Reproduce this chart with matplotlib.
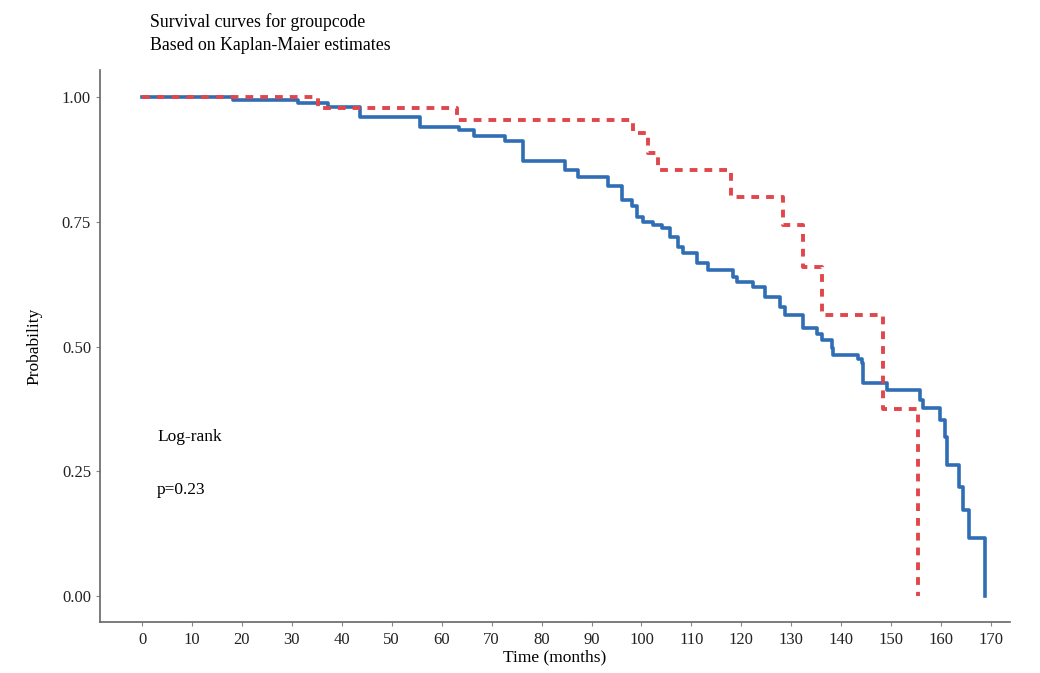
import matplotlib
matplotlib.use("Agg")
import matplotlib.pyplot as plt

plt.rcParams['font.family'] = ['Liberation Serif', 'DejaVu Serif']

# Kaplan-Meier steps (time in months, survival after the event)
blue_t = [0, 18.3, 31.2, 37.2, 43.7, 55.7, 63.4, 66.5, 72.7, 76.3, 84.7, 87.3,
          93.4, 96.1, 98.1, 99.1, 100.4, 102.4, 104.1, 105.7, 107.4, 108.4,
          111.1, 113.4, 118.4, 119.1, 122.4, 124.7, 127.8, 128.8, 132.4, 135.1,
          136.1, 138.1, 138.4, 143.4, 144.1, 144.4, 149.1, 155.8, 156.4, 159.8,
          160.8, 161.1, 163.5, 164.3, 165.5, 168.7]
blue_s = [1.0, 0.994, 0.988, 0.981, 0.960, 0.941, 0.934, 0.921, 0.911, 0.871, 0.854, 0.840,
          0.821, 0.794, 0.781, 0.760, 0.750, 0.744, 0.737, 0.720, 0.700, 0.687,
          0.667, 0.654, 0.640, 0.630, 0.620, 0.600, 0.580, 0.563, 0.537, 0.525,
          0.513, 0.497, 0.483, 0.475, 0.467, 0.427, 0.413, 0.393, 0.376, 0.353,
          0.319, 0.263, 0.219, 0.172, 0.116, 0.0]

red_t = [0, 35.3, 63.0, 98.3, 101.3, 103.3, 118.0, 128.4, 132.4, 136.2, 148.4, 155.4]
red_s = [1.0, 0.978, 0.954, 0.928, 0.888, 0.854, 0.800, 0.744, 0.660, 0.563, 0.375, 0.0]

xticks = list(range(0, 171, 10))
yticks = [0.0, 0.25, 0.5, 0.75, 1.0]

fig = plt.figure(figsize=(10.4, 6.73), dpi=100)
ax = fig.add_axes([0.0962, 0.0758, 0.875, 0.820])

ax.step(blue_t, blue_s, where='post', color='#2F6DB5', lw=2.6, zorder=2)
ax.step(red_t, red_s, where='post', color='#E0464B', lw=2.8,
        linestyle=(0, (2.0, 1.8)), zorder=3)

ax.set_xlim(-8.4, 173.8)
ax.set_ylim(-0.052, 1.054)
ax.set_xticks(xticks)
ax.set_yticks(yticks)
ax.set_yticklabels(['%.2f' % v for v in yticks])
ax.tick_params(labelsize=12, colors='#222222', length=3, color='#888888')
ax.tick_params(axis='x', pad=4)

for s in ['top', 'right']:
    ax.spines[s].set_visible(False)
for s in ['left', 'bottom']:
    ax.spines[s].set_color('#666666')
    ax.spines[s].set_linewidth(1.2)

ax.set_xlabel('Time (months)', fontsize=12.5, labelpad=1)
ax.set_ylabel('Probability', fontsize=12.5, labelpad=14)

ax.text(3, 0.31, 'Log-rank', fontsize=12.5)
ax.text(3, 0.205, 'p=0.23', fontsize=12.5)

fig.text(0.144, 0.98, 'Survival curves for groupcode\nBased on Kaplan-Maier estimates',
         fontsize=12.8, va='top', ha='left', linespacing=1.4)

fig.savefig('out.png', dpi=100, facecolor='white')
